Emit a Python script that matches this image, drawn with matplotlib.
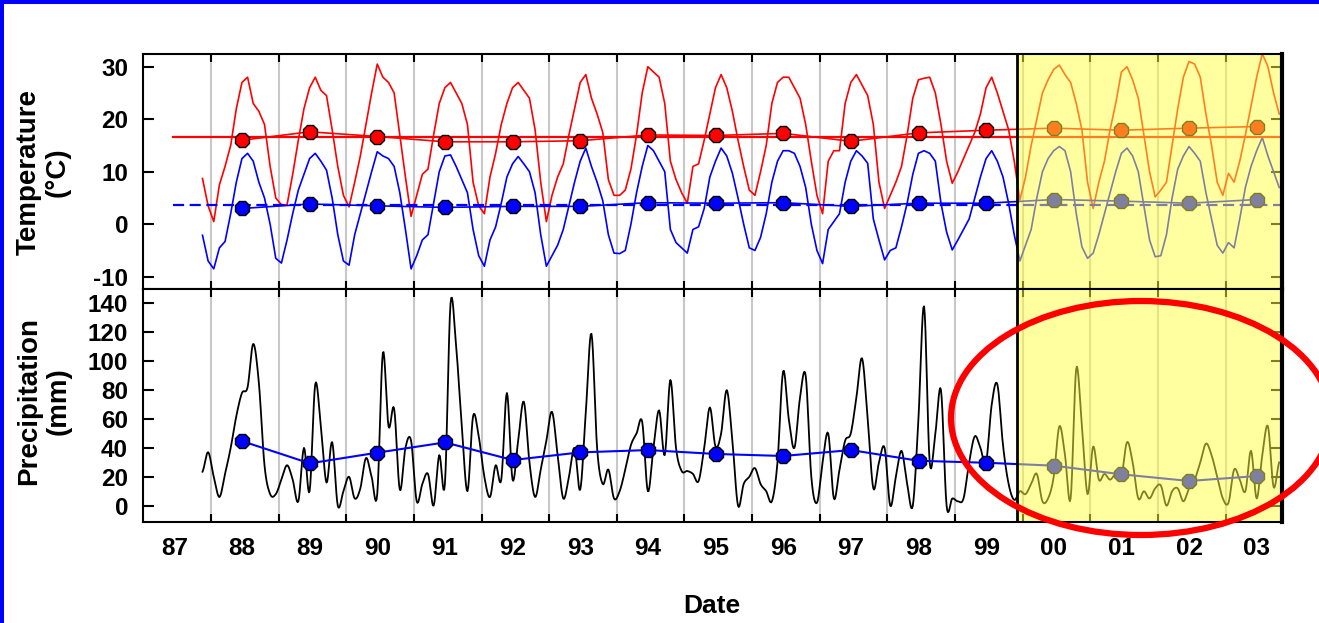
import numpy as np
import matplotlib
matplotlib.use("Agg")
import matplotlib.pyplot as plt
from matplotlib.patches import Rectangle, Ellipse
from matplotlib.ticker import FixedLocator, FixedFormatter, NullFormatter

plt.rcParams['font.family'] = ['Liberation Sans', 'DejaVu Sans']
plt.rcParams['font.weight'] = 'bold'
plt.rcParams['axes.unicode_minus'] = False

# ---- monthly series, Nov 1987 .. Oct 2003 ----
first_year, first_month = 1987, 11

tmax = [
    8.7, 3.5,
    0.5, 7.5, 11, 15, 22, 27, 28, 23, 21.5, 19, 11, 5,            # 1988
    3.7, 3.7, 9.5, 16, 22, 26, 28, 25.5, 24.5, 18, 11, 5.5,       # 1989
    3.3, 8, 13, 19, 25, 30.5, 28, 27, 25, 17, 9, 1.5,             # 1990
    5.5, 9.5, 10.5, 17, 23, 26, 27, 25, 23, 19, 8, 3.5,           # 1991
    2, 9, 13.5, 19, 23, 26, 27, 25.5, 24, 18, 8, 0.5,             # 1992
    5.5, 9, 11.5, 17, 22, 27, 28.5, 24, 21, 17.5, 8.5, 5.5,       # 1993
    5.5, 6.5, 10.5, 17, 25, 30, 29, 28, 23, 12, 8.5, 6,           # 1994
    4, 11, 11.5, 16, 21, 26, 28.5, 26, 21.5, 16, 11, 6.5,         # 1995
    5.5, 10, 15, 23, 27, 28, 28, 26, 24, 19, 12, 5.5,             # 1996
    2, 12, 14, 14, 23, 27, 28.5, 26.5, 24.5, 19, 8, 3,            # 1997
    5.5, 8, 11, 17, 24, 27.5, 27.8, 28, 25, 19, 12, 7.8,          # 1998
    10, 12.5, 15, 17.5, 21, 26, 28, 25, 21.5, 18, 12, 4.6,        # 1999
    9, 15, 20, 25, 27.5, 29.5, 30.3, 28.5, 27, 23, 18, 8,         # 2000
    3, 8, 12, 18, 23, 29, 30, 27.5, 24, 17, 10, 5.2,              # 2001
    6.5, 8, 15, 22, 28, 31, 30.5, 28, 21, 15, 8, 5.5,             # 2002
    9.7, 8, 12, 17, 22.5, 28, 32.5, 30, 25, 21,                   # 2003
]

tmin = [
    -2.1, -7,
    -8.5, -4.5, -3.3, 2, 8, 12.5, 13.5, 12, 8, 5, 0, -6.5,        # 1988
    -7.4, -3, 2, 6.5, 9.5, 12.5, 13.5, 12, 10.3, 5, -2, -7,       # 1989
    -7.8, -2, 2, 6, 10, 13.8, 13, 12.5, 11, 6, -1, -8.5,          # 1990
    -6, -3, -2, 4, 10, 13, 13.2, 11, 8.5, 6, -1, -6,              # 1991
    -8, -3, -0.5, 4, 9, 11.5, 12.9, 11.5, 10, 6, -2, -8,          # 1992
    -6, -4, -1, 3.5, 8, 12, 14.5, 11, 8, 4.5, -2, -5.5,           # 1993
    -5.6, -5, 0, 6, 11, 15, 14, 12, 10, -1, -3.5, -4.5,           # 1994
    -5.5, -1, -0.5, 3, 9, 12, 14.5, 13, 9.7, 5, 0, -4.5,          # 1995
    -5, -2.5, 2, 8, 12, 14, 14, 13.5, 11, 7, 0, -5,               # 1996
    -7.5, -1, 0.5, 2, 8, 12, 14, 13, 11.6, 1, -3, -6.8,           # 1997
    -5, -4.5, -0.5, 4, 9.5, 13.5, 14, 13.5, 12, 4, -1.5, -4.9,    # 1998
    -3, -1, 1, 5, 9, 12.5, 14, 12, 9, 4, -2, -7,                  # 1999
    -4, -1, 5, 10, 12.5, 14, 14.8, 14, 10, 2, -4.3, -6.5,         # 2000
    -5.5, -2, 2, 6, 10, 13.5, 14.5, 13, 10, 3.5, -3, -6.2,        # 2001
    -6, -2, 5, 10.5, 13, 14.8, 13.5, 12, 6, 1, -4, -5.5,          # 2002
    -3.5, -4.5, 1, 7, 11, 14, 16.5, 13, 10, 7,                    # 2003
]

precip = [
    23.5, 37,
    20, 6, 22, 40, 62, 78, 82, 112, 85, 28, 8, 8,                 # 1988
    18, 28, 18, 3, 40, 10, 84, 55, 16, 44, 0, 10,                 # 1989
    20, 5, 12, 33, 20, 8, 106, 55, 67, 11, 40, 45,                # 1990
    3, 15, 22, 0, 35, 15, 140, 110, 55, 10, 62, 48,               # 1991
    20, 6, 28, 18, 78, 18, 45, 72, 30, 6, 25, 45,                 # 1992
    65, 35, 5, 20, 40, 11, 65, 119, 40, 15, 25, 5,                # 1993
    10, 25, 42, 50, 58, 10, 40, 66, 35, 87, 40, 24,               # 1994
    24, 22, 17, 40, 68, 41, 50, 80, 45, 0, 15, 20,                # 1995
    26, 15, 10, 3, 30, 93, 60, 40, 75, 90, 20, 2,                 # 1996
    30, 50, 5, 25, 45, 50, 75, 102, 60, 12, 30, 40,               # 1997
    0, 20, 38, 15, 0, 60, 138, 30, 50, 80, 0, 5,                  # 1998
    3, 5, 30, 48, 40, 30, 70, 84, 42, 15, 4, 10,                  # 1999
    8, 15, 22, 3, 5, 20, 55, 35, 5, 95, 55, 8,                    # 2000
    41, 18, 22, 18, 22, 20, 44, 30, 5, 10, 5, 12,                 # 2001
    14, 0, 10, 12, 3, 12, 18, 30, 43, 35, 20, 5,                  # 2002
    2, 25, 18, 10, 38, 5, 35, 55, 13, 30,                         # 2003
]

# ---- annual means ----
years = list(range(1988, 2004))
tmax_annual = [16.0, 17.6, 16.7, 15.7, 15.7, 15.9, 17.0, 16.9, 17.3, 15.8,
               17.4, 17.9, 18.3, 17.9, 18.3, 18.6]
tmin_annual = [3.0, 3.85, 3.5, 3.2, 3.4, 3.4, 4.1, 4.0, 4.1, 3.4,
               4.0, 4.0, 4.7, 4.4, 4.0, 4.7]
precip_annual = [44.7, 29.3, 36.7, 43.8, 31.6, 36.9, 38.5, 35.8, 34.4, 38.5,
                 31.1, 29.7, 27.7, 21.7, 17.1, 20.5]
tmax_overall = 16.7
tmin_overall = 3.65

year_labels = ['87', '88', '89', '90', '91', '92', '93', '94', '95', '96',
               '97', '98', '99', '00', '01', '02', '03']
recent_start = 1999.92   # start of the highlighted recent period

# ---- time axis in decimal years (month centres) ----
n = len(tmax)
t = first_year + (first_month - 1 + np.arange(n) + 0.5) / 12.0
year_mid = np.array(years) + 0.46
x_left, x_right = 1987.0, 2003.833
mean_line_x = [1987.44, 2003.9]


def catmull_rom(x, y, steps=8):
    x = np.asarray(x, float)
    y = np.asarray(y, float)
    p = np.concatenate([[y[0]], y, [y[-1]]])
    s = np.linspace(0, 1, steps, endpoint=False)
    xs, ys = [], []
    for k in range(len(y) - 1):
        p0, p1, p2, p3 = p[k], p[k + 1], p[k + 2], p[k + 3]
        ys.append(0.5 * (2 * p1 + (-p0 + p2) * s
                         + (2 * p0 - 5 * p1 + 4 * p2 - p3) * s ** 2
                         + (-p0 + 3 * p1 - 3 * p2 + p3) * s ** 3))
        xs.append(x[k] + (x[k + 1] - x[k]) * s)
    xs.append([x[-1]])
    ys.append([y[-1]])
    return np.concatenate(xs), np.concatenate(ys)


W, H = 1319, 623
fig = plt.figure(figsize=(W / 100, H / 100), dpi=100)
fig.patch.set_facecolor('white')

ax_t = fig.add_axes([143.3 / W, 1 - 289 / H, (1282 - 143.3) / W, (289 - 54) / H])
ax_p = fig.add_axes([143.3 / W, 1 - 522 / H, (1282 - 143.3) / W, (522 - 289) / H])

# ---- temperature panel ----
ax_t.plot(t, tmax, color='#ff0000', lw=1.2, zorder=3)
ax_t.plot(t, tmin, color='#0000ff', lw=1.2, zorder=3)
ax_t.plot(mean_line_x, [tmax_overall] * 2, color='#ff0000', lw=1.6, zorder=4)
ax_t.plot(mean_line_x, [tmin_overall] * 2, color='#0000ff', lw=1.6,
          dashes=(5, 2.5), zorder=4)
ax_t.plot(year_mid, tmax_annual, color='#ff0000', lw=1.2, zorder=4)
ax_t.plot(year_mid, tmin_annual, color='#0000ff', lw=1.2, zorder=4)
ax_t.plot(year_mid, tmax_annual, ls='none', marker='8', ms=11, mfc='#ff0000',
          mec='black', mew=1.0, zorder=5)
ax_t.plot(year_mid, tmin_annual, ls='none', marker='8', ms=11, mfc='#0000ff',
          mec='black', mew=1.0, zorder=5)
ax_t.set_ylim(-12.34, 32.42)
ax_t.set_yticks([-10, 0, 10, 20, 30])

# ---- precipitation panel ----
xs, ys = catmull_rom(t, precip)
ax_p.plot(xs, ys, color='black', lw=1.3, zorder=3)
ax_p.plot(year_mid, precip_annual, color='#0000ff', lw=1.5, zorder=4)
ax_p.plot(year_mid, precip_annual, ls='none', marker='8', ms=11, mfc='#0000ff',
          mec='black', mew=1.0, zorder=5)
ax_p.set_ylim(-11.3, 150)
ax_p.set_yticks(list(range(0, 141, 20)))

for ax in (ax_t, ax_p):
    ax.set_xlim(x_left, x_right)
    ax.xaxis.set_major_locator(FixedLocator(years))
    ax.xaxis.set_major_formatter(NullFormatter())
    ax.xaxis.set_minor_locator(FixedLocator([y + 0.46 for y in range(1987, 2004)]))
    ax.tick_params(axis='x', which='major', direction='in', length=6, width=1.5,
                   top=True, bottom=True, color='black')
    ax.tick_params(axis='x', which='minor', length=0, pad=11, labelsize=17.5)
    ax.tick_params(axis='y', direction='in', length=8, width=1.5, left=True,
                   right=True, labelsize=17.5, pad=11)
    ax.grid(axis='x', which='major', color='#c8c8c8', lw=1.5, zorder=1)
    ax.set_axisbelow(True)
    for sp in ax.spines.values():
        sp.set_linewidth(1.5)
        sp.set_zorder(12)
    ax.spines['right'].set_linewidth(3)
    # highlighted recent period
    ax.axvspan(recent_start, x_right, facecolor=(1, 1, 0.25), alpha=0.5, lw=0, zorder=10)
    ax.axvline(recent_start, color='black', lw=2, zorder=11)
    for lbl in ax.get_yticklabels():
        lbl.set_fontweight('bold')

ax_t.xaxis.set_minor_formatter(NullFormatter())
ax_p.xaxis.set_minor_formatter(FixedFormatter(year_labels))
for lbl in ax_p.get_xticklabels(minor=True):
    lbl.set_fontweight('bold')

fig.text(43 / W, 1 - 172 / H, 'Temperature\n(°C)', rotation=90, ha='center',
         va='center', multialignment='center', fontsize=20, fontweight='bold',
         linespacing=1.15)
fig.text(44 / W, 1 - 401 / H, 'Precipitation\n(mm)', rotation=90, ha='center',
         va='center', multialignment='center', fontsize=20, fontweight='bold',
         linespacing=1.15)
fig.text(712 / W, 1 - 613 / H, 'Date', ha='center', va='baseline', fontsize=19,
         fontweight='bold')

# red ring around the recent precipitation
fig.add_artist(Ellipse((1141 / W, 1 - 418 / H), 380 / W, 234 / H,
                       transform=fig.transFigure, fill=False, edgecolor='#ff0000',
                       lw=4.5, zorder=20))

# blue frame on the left and top edges
fig.add_artist(Rectangle((0, 0), 3.5 / W, 1, transform=fig.transFigure,
                         facecolor='#0000ff', edgecolor='none', zorder=30))
fig.add_artist(Rectangle((0, 1 - 3.5 / H), 1, 3.5 / H, transform=fig.transFigure,
                         facecolor='#0000ff', edgecolor='none', zorder=30))

fig.savefig('out.png', dpi=100)
